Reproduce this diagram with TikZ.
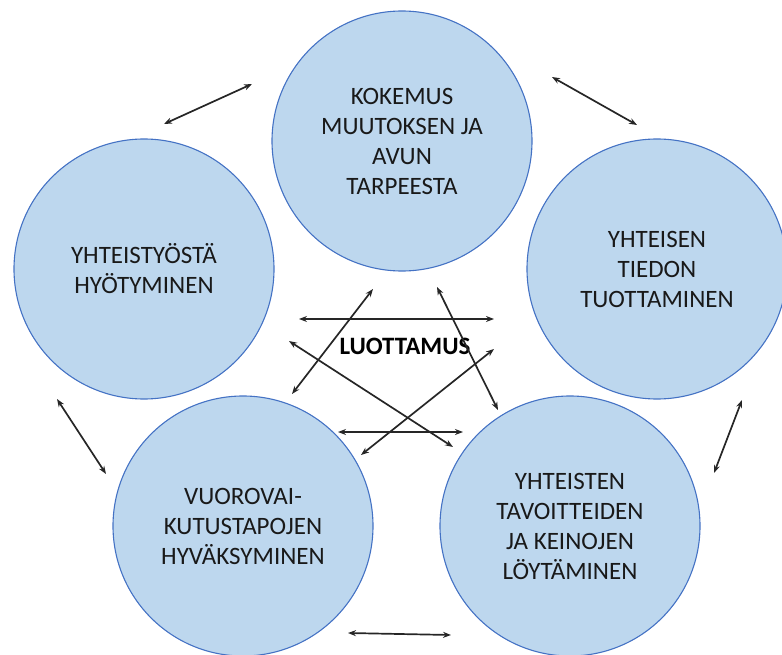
\documentclass[tikz,border=0pt]{standalone}
\usepackage{fontspec}
\setmainfont{Carlito}
\usepackage{tikz}
\usetikzlibrary{arrows.meta,positioning}

\definecolor{circfill}{HTML}{BDD7EE}
\definecolor{circline}{HTML}{4472C4}

\begin{document}
\begin{tikzpicture}[x=1pt,y=-1pt,<->,>={Stealth[length=8pt,width=6pt]},
                line width=1.7pt,draw=black!85,
                main node/.style={circle,draw=circline,fill=circfill,line width=1.1pt,
                  minimum size=260pt,inner sep=0pt,align=center,text=black!90,
                  font=\fontsize{25}{30}\selectfont}]
  \useasboundingbox (0,0) rectangle (782,655);
  \node[main node] (kokemus) at (402,141) {KOKEMUS\\MUUTOKSEN JA\\AVUN\\TARPEESTA};
  \node[main node] (hyoty) at (144,269) {YHTEISTYÖSTÄ\\HYÖTYMINEN};
  \node[main node] (tieto) at (657,269) {YHTEISEN\\TIEDON\\TUOTTAMINEN};
  \node[main node] (vuoro) at (243,526) {VUOROVAI-\\KUTUSTAPOJEN\\HYVÄKSYMINEN};
  \node[main node] (tavoite) at (570,526) {YHTEISTEN\\TAVOITTEIDEN\\JA KEINOJEN\\LÖYTÄMINEN};
  \node[font=\fontsize{25}{30}\selectfont\bfseries] (luott) at (405,346) {LUOTTAMUS};

  % outer ring
  \coordinate (o1a) at (252,84);  \coordinate (o1b) at (164,124);
  \coordinate (o2a) at (552,77);  \coordinate (o2b) at (637,125);
  \coordinate (o3a) at (57,399);  \coordinate (o3b) at (106,474);
  \coordinate (o4a) at (742,400); \coordinate (o4b) at (714,473);
  \coordinate (o5a) at (348,633); \coordinate (o5b) at (451,635);
  % inner star
  \coordinate (i1a) at (299,319); \coordinate (i1b) at (494,319);
  \coordinate (i2a) at (338,432); \coordinate (i2b) at (463,432);
  \coordinate (i3a) at (373,289); \coordinate (i3b) at (292,394);
  \coordinate (i4a) at (437,287); \coordinate (i4b) at (498,410);
  \coordinate (i5a) at (289,341); \coordinate (i5b) at (453,447);
  \coordinate (i6a) at (494,349); \coordinate (i6b) at (361,455);

  \foreach \n in {o1,o2,o3,o4,o5,i1,i2,i3,i4,i5,i6}
    \draw (\n a) -- (\n b);
\end{tikzpicture}
\end{document}
